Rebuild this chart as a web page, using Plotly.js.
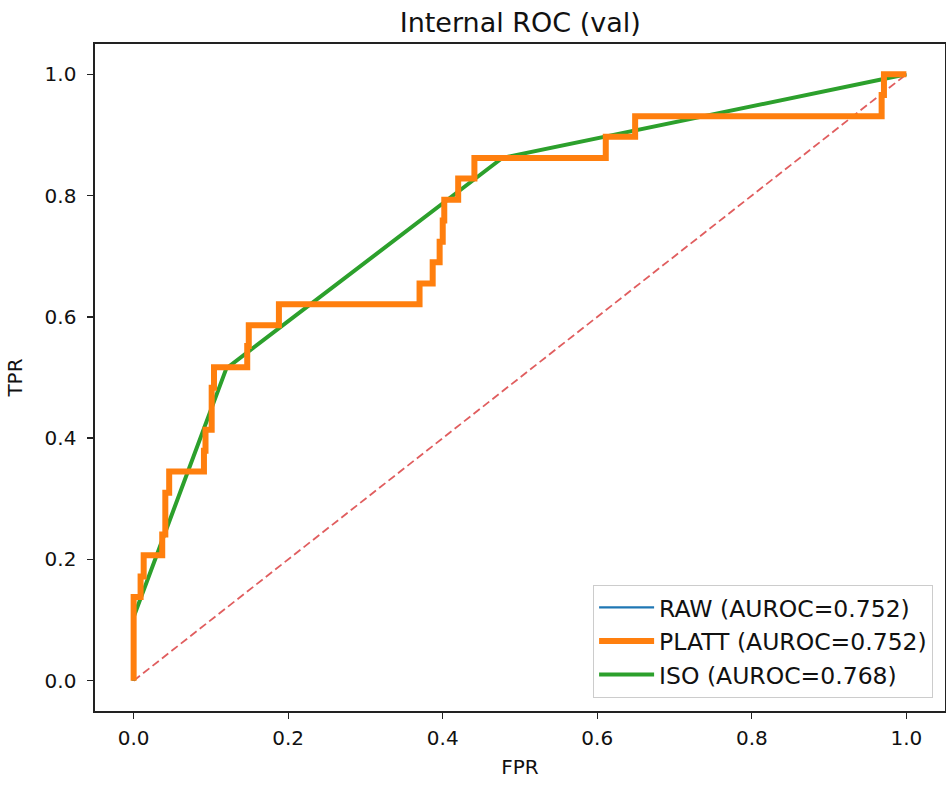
<!DOCTYPE html>
<html>
<head>
<meta charset="utf-8">
<script src="https://cdn.plot.ly/plotly-3.0.1.min.js"></script>
<style>html,body{margin:0;padding:0;background:#fff;}#chart{width:946px;height:787px;}</style>
</head>
<body>
<div id="chart"></div>
<script>
// Data
const seriesNames = ["RAW (AUROC=0.752)", "PLATT (AUROC=0.752)", "ISO (AUROC=0.768)"];
const platt_fpr = [0, 0, 0.009, 0.009, 0.013, 0.013, 0.037, 0.037, 0.041, 0.041, 0.041, 0.046, 0.046, 0.091, 0.091, 0.093, 0.093, 0.101, 0.101, 0.104, 0.104, 0.147, 0.147, 0.149, 0.149, 0.188, 0.188, 0.370, 0.370, 0.387, 0.387, 0.396, 0.396, 0.400, 0.400, 0.402, 0.402, 0.420, 0.420, 0.441, 0.441, 0.611, 0.611, 0.649, 0.649, 0.968, 0.968, 0.971, 0.971, 1.0];
const platt_tpr = [0, 0.138, 0.138, 0.172, 0.172, 0.207, 0.207, 0.241, 0.241, 0.276, 0.310, 0.310, 0.345, 0.345, 0.379, 0.379, 0.414, 0.414, 0.483, 0.483, 0.517, 0.517, 0.552, 0.552, 0.586, 0.586, 0.621, 0.621, 0.655, 0.655, 0.690, 0.690, 0.724, 0.724, 0.759, 0.759, 0.793, 0.793, 0.828, 0.828, 0.862, 0.862, 0.897, 0.897, 0.931, 0.931, 0.966, 0.966, 1.0, 1.0];
const raw_fpr = platt_fpr.slice();
const raw_tpr = platt_tpr.slice();
const iso_fpr = [0, 0, 0.120, 0.477, 1.0];
const iso_tpr = [0, 0.105, 0.515, 0.862, 1.0];
const diag = [0, 1];
const tickVals = [0, 0.2, 0.4, 0.6, 0.8, 1.0];

const FONT = "DejaVu Sans, sans-serif";

const traces = [
  {x: diag, y: diag, mode: "lines", showlegend: false, hoverinfo: "skip",
   line: {color: "rgba(214,39,40,0.75)", width: 1.8, dash: "8px,4px"}},
  {x: iso_fpr, y: iso_tpr, mode: "lines", name: seriesNames[2], legendrank: 3,
   line: {color: "#2ca02c", width: 4}},
  {x: raw_fpr, y: raw_tpr, mode: "lines", name: seriesNames[0], legendrank: 1,
   line: {color: "#1f77b4", width: 2.2}},
  {x: platt_fpr, y: platt_tpr, mode: "lines", name: seriesNames[1], legendrank: 2,
   line: {color: "#ff7f0e", width: 6}}
];

const axisCommon = {
  range: [-0.05, 1.05], tickvals: tickVals, tickformat: ".1f",
  showgrid: false, zeroline: false, showline: true, mirror: true,
  linecolor: "#222", linewidth: 1.6, ticks: "outside", ticklen: 6,
  tickwidth: 1.3, tickcolor: "#222",
  tickfont: {family: FONT, size: 20, color: "#111"}, automargin: false
};

const layout = {
  width: 946, height: 787,
  margin: {l: 95, r: 1, t: 44, b: 76},
  paper_bgcolor: "#fff", plot_bgcolor: "#fff",
  title: {text: "Internal ROC (val)", font: {family: FONT, size: 27, color: "#111"},
          x: 0.55, xref: "container", xanchor: "center", y: 0.971, yref: "container", yanchor: "middle"},
  xaxis: Object.assign({}, axisCommon, {
    ticklabelstandoff: 2,
    title: {text: "FPR", font: {family: FONT, size: 20, color: "#111"}, standoff: 11}
  }),
  yaxis: Object.assign({}, axisCommon, {
    ticklabelstandoff: 7,
    title: {text: "TPR", font: {family: FONT, size: 20, color: "#111"}, standoff: 16}
  }),
  legend: {
    x: 0.986, y: 0.02, xanchor: "right", yanchor: "bottom",
    bgcolor: "rgba(255,255,255,0.85)", bordercolor: "#cccccc", borderwidth: 1,
    font: {family: FONT, size: 23.5, color: "#111"}, itemwidth: 55,
    traceorder: "normal", tracegroupgap: 0
  },
  showlegend: true
};

Plotly.newPlot("chart", traces, layout, {displayModeBar: false, staticPlot: true});
</script>
</body>
</html>
